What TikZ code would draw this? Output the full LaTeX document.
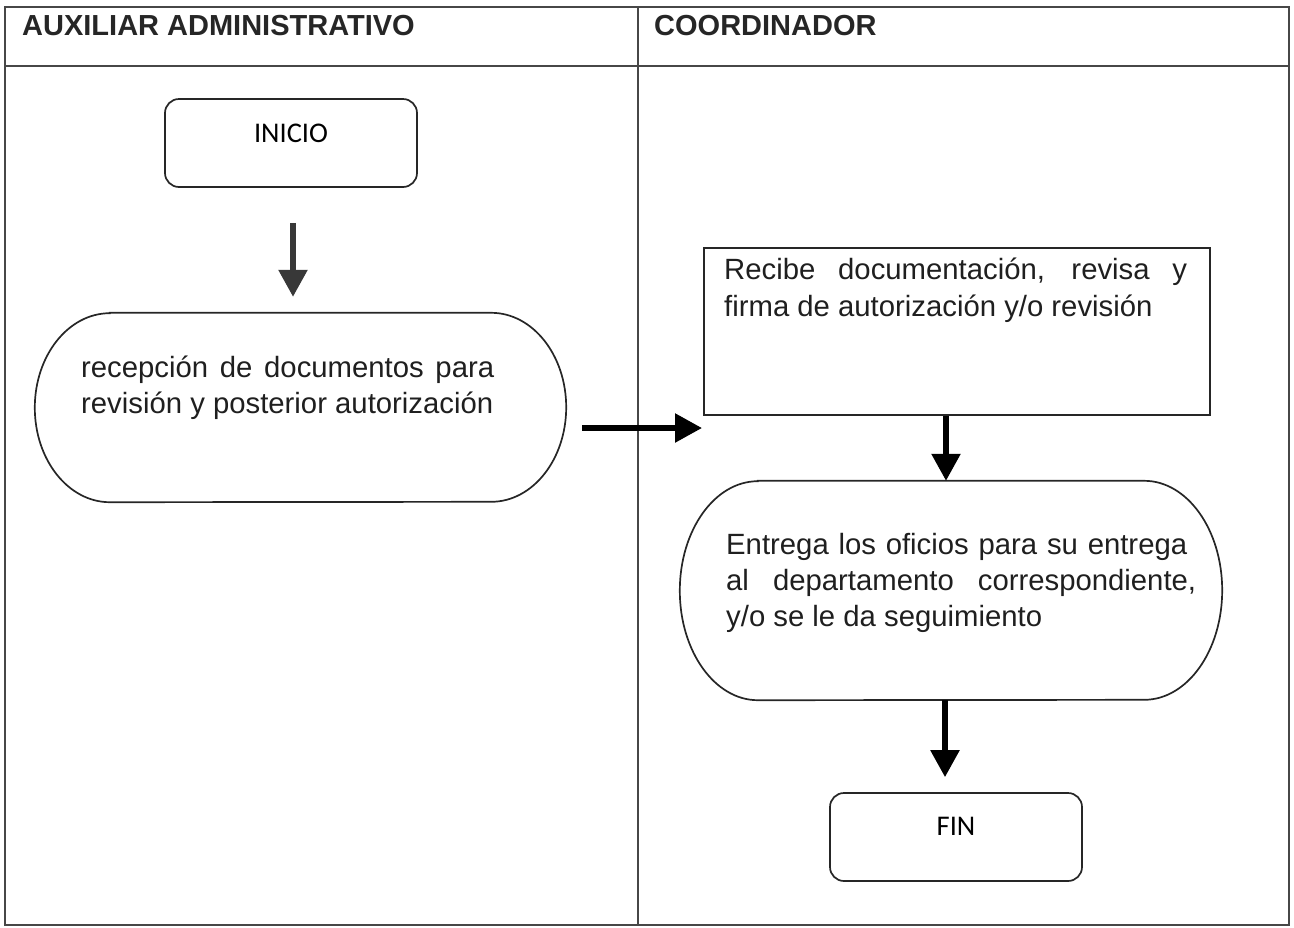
\documentclass[tikz,border=0pt]{standalone}
\usepackage{fontspec}
\setmainfont{Liberation Sans}
\newfontfamily\calib{Carlito}
\usetikzlibrary{arrows.meta}
\newcommand\natsp{\spaceskip=0pt\relax\xspaceskip=0pt\relax}
\newcommand\jline[2]{\makebox[#1][s]{#2}}
\tikzset{
  frameline/.style={draw=black!72, line width=1.5pt},
  shapeline/.style={draw=black!85, line width=1.7pt},
  arr/.style={line width=5.5pt, -{Triangle[length=27pt,width=28pt]}},
  termbox/.style={shapeline, rounded corners=14pt, minimum width=252pt, inner sep=0pt, font=\calib\fontsize{28.5}{34}\selectfont},
  hole/.style={rectangle, draw=none, inner sep=0pt},
  para/.style={inner sep=0pt, anchor=base west, text width=480pt, align=left, text=black!88},
  head/.style={inner sep=0pt, anchor=base west, font=\bfseries\fontsize{29}{34}\selectfont, text=black!85}
}
\begin{document}
\begin{tikzpicture}[x=1pt,y=-1pt]
\useasboundingbox (0,0) rectangle (1294,927);
% table frame
\draw[frameline] (5,7) rectangle (1289,925);
\draw[frameline] (5,66) -- (1289,66);
\draw[frameline] (638,7) -- (638,925);
\node[head] (h1) at (22,35) {AUXILIAR ADMINISTRATIVO};
\node[head] (h2) at (654,35) {COORDINADOR};

% shapes
\node[termbox, text height=43pt, text depth=45pt] (inicio) at (291,143) {INICIO};
\node[hole, minimum width=531pt, minimum height=189pt] (s1) at (300.5,407.5) {};
\draw[shapeline] ([xshift=75pt]s1.north west) -- ([xshift=-75pt]s1.north east)
  arc[start angle=90, end angle=-90, x radius=75pt, y radius=94.5pt]
  -- ([xshift=75pt]s1.south west)
  arc[start angle=270, end angle=90, x radius=75pt, y radius=94.5pt] -- cycle;
\node[para, font=\fontsize{29.3}{36}\selectfont] (t1) at (81,377)
  {\natsp\jline{413pt}{recepción de documentos para}\\revisión y posterior autorización};

\node[hole, shapeline, minimum width=506pt, minimum height=167pt] (rect) at (957,331.5) {};
\node[para, font=\fontsize{29.3}{37.5}\selectfont] (t2) at (724,279)
  {\natsp\jline{463pt}{Recibe documentación, revisa y}\\firma de autorización y/o revisión};

\node[hole, minimum width=542pt, minimum height=219pt] (s2) at (951,590.5) {};
\draw[shapeline] ([xshift=78pt]s2.north west) -- ([xshift=-78pt]s2.north east)
  arc[start angle=90, end angle=-90, x radius=78pt, y radius=109.5pt]
  -- ([xshift=78pt]s2.south west)
  arc[start angle=270, end angle=90, x radius=78pt, y radius=109.5pt] -- cycle;
\node[para, font=\fontsize{29.3}{36}\selectfont] (t3) at (726,554)
  {\natsp\jline{461pt}{Entrega los oficios para su entrega}\\\jline{470pt}{al departamento correspondiente,}\\y/o se le da seguimiento};

\node[termbox, text height=42pt, text depth=46pt] (fin) at (956,837) {FIN};

% connectors
\draw[arr, draw=black!78, fill=black!78, shorten <=35pt, shorten >=16pt]
  ([xshift=2pt]inicio.south) -- ([xshift=2pt]inicio.south |- s1.north);
\coordinate (ha) at (582,428);
\coordinate (hb) at (702,428);
\draw[arr] (ha) -- (hb);
\draw[arr] ([xshift=-11pt]rect.south) -- ([xshift=-11pt]rect.south |- s2.north);
\draw[arr, shorten >=15pt] ([xshift=-6pt]s2.south) -- ([xshift=-6pt]s2.south |- fin.north);
\end{tikzpicture}
\end{document}
